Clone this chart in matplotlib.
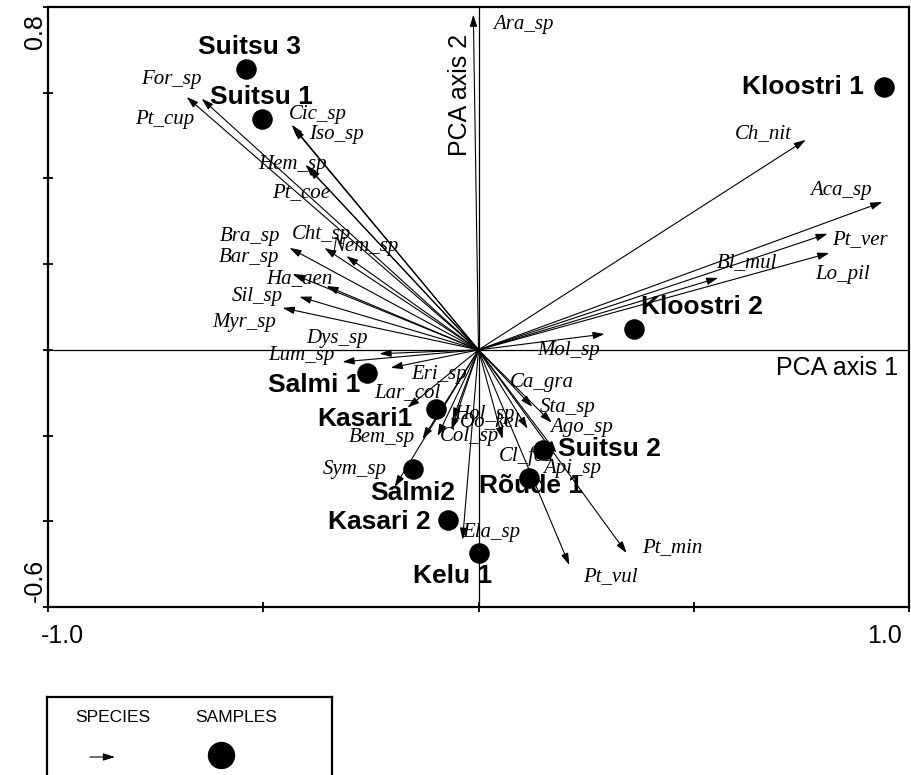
import matplotlib.pyplot as plt

# species arrows (tip coordinates on PCA axes 1 and 2)
species = ["Ara_sp", "For_sp", "Pt_cup", "Cic_sp", "Iso_sp", "Hem_sp", "Pt_coe",
           "Bra_sp", "Cht_sp", "Nem_sp", "Bar_sp", "Ha_aen", "Sil_sp", "Myr_sp",
           "Dys_sp", "Lum_sp", "Eri_sp", "Lar_col", "Bem_sp", "Sym_sp", "Col_sp",
           "Hol_sp", "Oo_kel", "Ela_sp", "Cl_fos", "Api_sp", "Ca_gra", "Sta_sp",
           "Ago_sp", "Pt_vul", "Pt_min", "Mol_sp", "Bl_mul", "Lo_pil", "Pt_ver",
           "Aca_sp", "Ch_nit"]
sp_x = [-0.012, -0.678, -0.643, -0.434, -0.430, -0.395, -0.402,
        -0.439, -0.358, -0.307, -0.432, -0.353, -0.416, -0.455,
        -0.230, -0.316, -0.204, -0.165, -0.130, -0.195, -0.095,
        -0.060, -0.063, -0.037, 0.056, 0.114, 0.125, 0.170,
        0.181, 0.211, 0.344, 0.293, 0.557, 0.815, 0.811,
        0.938, 0.760]
sp_y = [0.782, 0.590, 0.586, 0.525, 0.518, 0.425, 0.432,
        0.238, 0.238, 0.219, 0.177, 0.149, 0.124, 0.098,
        -0.009, -0.028, -0.042, -0.135, -0.208, -0.320, -0.201,
        -0.163, -0.187, -0.443, -0.208, -0.184, -0.133, -0.170,
        -0.240, -0.502, -0.474, 0.037, 0.168, 0.226, 0.271,
        0.345, 0.490]
# where the species names sit
sp_lx = [0.105, -0.713, -0.729, -0.374, -0.330, -0.432, -0.411,
         -0.530, -0.365, -0.265, -0.534, -0.416, -0.513, -0.544,
         -0.328, -0.411, -0.091, -0.165, -0.225, -0.288, -0.021,
         0.014, 0.026, 0.030, 0.111, 0.218, 0.146, 0.207,
         0.239, 0.307, 0.451, 0.209, 0.623, 0.846, 0.887,
         0.841, 0.662]
sp_ly = [0.758, 0.630, 0.537, 0.548, 0.502, 0.432, 0.366,
         0.264, 0.268, 0.240, 0.215, 0.166, 0.124, 0.065,
         0.026, -0.014, -0.058, -0.100, -0.205, -0.280, -0.203,
         -0.152, -0.168, -0.425, -0.247, -0.277, -0.077, -0.135,
         -0.182, -0.530, -0.462, -0.002, 0.203, 0.175, 0.257,
         0.373, 0.504]

# samples
samples = ["Suitsu 3", "Suitsu 1", "Kloostri 1", "Kloostri 2", "Salmi 1", "Kasari1",
           "Salmi2", "Kasari 2", "Kelu 1", "Rõude 1", "Suitsu 2"]
smp_x = [-0.541, -0.502, 0.943, 0.362, -0.258, -0.098, -0.153, -0.072, 0.002, 0.118, 0.149]
smp_y = [0.656, 0.539, 0.614, 0.049, -0.054, -0.138, -0.278, -0.397, -0.474, -0.299, -0.233]
smp_lx = [-0.532, -0.504, 0.753, 0.520, -0.381, -0.265, -0.153, -0.230, -0.060, 0.123, 0.304]
smp_ly = [0.707, 0.590, 0.614, 0.100, -0.082, -0.161, -0.334, -0.401, -0.527, -0.318, -0.231]

fig = plt.figure(figsize=(9.11, 7.75), dpi=100)
ax = fig.add_axes([48/911, 168/775, 861/911, 600/775])
ax.set_xlim(-1.0, 1.0)
ax.set_ylim(-0.6, 0.8)

ax.axhline(0, color="black", lw=0.9)
ax.axvline(0, color="black", lw=0.9)

arrow = dict(arrowstyle="-|>,head_length=0.7,head_width=0.22", color="black",
             lw=0.8, shrinkA=0, shrinkB=0, mutation_scale=10)
for name, x, y, lx, ly in zip(species, sp_x, sp_y, sp_lx, sp_ly):
    ax.annotate("", xy=(x, y), xytext=(0, 0), arrowprops=arrow)
    ax.text(lx, ly, name, family="Liberation Serif", style="italic",
            fontsize=15, ha="center", va="center")

ax.scatter(smp_x, smp_y, s=190, c="black", zorder=3)
for name, lx, ly in zip(samples, smp_lx, smp_ly):
    ax.text(lx, ly, name, family="Liberation Sans", fontweight="bold",
            fontsize=19, ha="center", va="center")

ax.text(-0.044, 0.595, "PCA axis 2", family="Liberation Sans", fontsize=18,
        rotation=90, ha="center", va="center")
ax.text(0.832, -0.042, "PCA axis 1", family="Liberation Sans", fontsize=18,
        ha="center", va="center")

ax.set_xticks([-1.0, -0.5, 0.0, 0.5, 1.0])
ax.set_yticks([-0.6, -0.4, -0.2, 0.0, 0.2, 0.4, 0.6, 0.8])
ax.tick_params(direction="inout", length=7, width=1.3,
               labelbottom=False, labelleft=False)
for s in ax.spines.values():
    s.set_linewidth(1.6)

xt = ax.get_xaxis_transform()
yt = ax.get_yaxis_transform()
ax.text(-0.966, -0.048, "-1.0", transform=xt, family="Liberation Sans",
        fontsize=18, ha="center", va="center")
ax.text(0.943, -0.048, "1.0", transform=xt, family="Liberation Sans",
        fontsize=18, ha="center", va="center")
ax.text(-0.015, 0.742, "0.8", transform=yt, family="Liberation Sans",
        fontsize=18, rotation=90, ha="center", va="center")
ax.text(-0.015, -0.537, "-0.6", transform=yt, family="Liberation Sans",
        fontsize=18, rotation=90, ha="center", va="center")

# legend box below the plot
lg = fig.add_axes([47/911, 0, 285/911, 78/775])
lg.set_xlim(0, 285)
lg.set_ylim(0, 78)
lg.set_xticks([])
lg.set_yticks([])
lg.spines["bottom"].set_visible(False)
for s in ["top", "left", "right"]:
    lg.spines[s].set_linewidth(1.6)
lg.text(66, 58, "SPECIES", family="Liberation Sans", fontsize=12.5, ha="center", va="center")
lg.text(189, 58, "SAMPLES", family="Liberation Sans", fontsize=12.5, ha="center", va="center")
lg.annotate("", xy=(68, 18), xytext=(43, 18), arrowprops=arrow)
lg.scatter([174], [20], s=350, c="black")

fig.savefig("out.png", dpi=100)
